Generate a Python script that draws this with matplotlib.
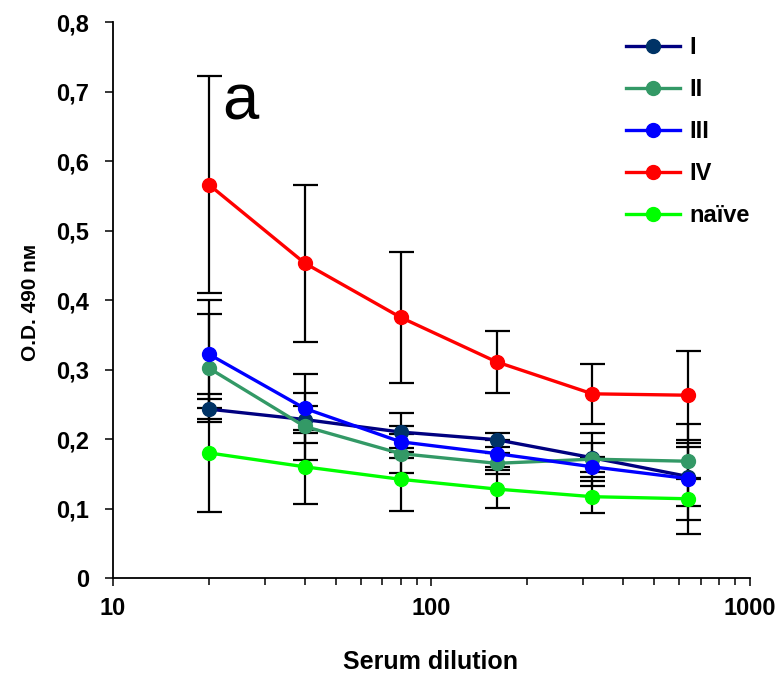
import matplotlib.pyplot as plt
from matplotlib.ticker import FixedLocator, FuncFormatter, LogLocator, NullFormatter

# serum dilution (x) and O.D. 490 values
dilution = [20, 40, 80, 160, 320, 640]

od_I = [0.243, 0.228, 0.210, 0.199, 0.173, 0.146]
err_I = [0.014, 0.020, 0.028, 0.010, 0.021, 0.042]
od_II = [0.302, 0.218, 0.179, 0.165, 0.171, 0.168]
err_II = [0.078, 0.048, 0.028, 0.015, 0.038, 0.026]
od_III = [0.322, 0.244, 0.196, 0.179, 0.160, 0.143]
err_III = [0.078, 0.050, 0.023, 0.020, 0.014, 0.079]
od_IV = [0.566, 0.453, 0.375, 0.311, 0.265, 0.263]
err_IV = [0.156, 0.113, 0.094, 0.045, 0.043, 0.064]
od_naive = [0.180, 0.160, 0.142, 0.128, 0.117, 0.114]
err_naive = [0.085, 0.053, 0.045, 0.027, 0.023, 0.030]

series = [
    ("I", od_I, err_I, "#000080", "#003366"),
    ("II", od_II, err_II, "#339966", "#339966"),
    ("III", od_III, err_III, "#0000FF", "#0000FF"),
    ("IV", od_IV, err_IV, "#FF0000", "#FF0000"),
    ("naïve", od_naive, err_naive, "#00FF00", "#00FF00"),
]

plt.rcParams.update({
    "font.family": ["Liberation Sans", "DejaVu Sans"],
    "font.weight": "bold",
})

fig = plt.figure(figsize=(7.8, 6.75), dpi=100)
ax = fig.add_axes([0.1449, 0.1437, 0.8166, 0.8237])

# error bars first so the markers sit on top
for name, vals, errs, lc, mc in series:
    ax.errorbar(dilution, vals, yerr=errs, fmt="none", ecolor="black",
                elinewidth=1.6, capsize=9, capthick=1.6, zorder=2)

for name, vals, errs, lc, mc in series:
    ax.plot(dilution, vals, "-o", color=lc, markerfacecolor=mc, markeredgecolor=mc,
            linewidth=2.4, markersize=10, label=name, zorder=3)

ax.set_xscale("log")
ax.set_xlim(10, 1000)
ax.set_ylim(0, 0.8)

ax.xaxis.set_major_locator(FixedLocator([10, 100, 1000]))
ax.xaxis.set_major_formatter(FuncFormatter(lambda v, p: f"{v:.0f}"))
ax.xaxis.set_minor_locator(LogLocator(base=10, subs=range(2, 10)))
ax.xaxis.set_minor_formatter(NullFormatter())

ax.yaxis.set_major_locator(FixedLocator([i / 10 for i in range(9)]))
ax.yaxis.set_major_formatter(
    FuncFormatter(lambda v, p: "0" if abs(v) < 1e-9 else f"{v:.1f}".replace(".", ",")))

for s in ["top", "right"]:
    ax.spines[s].set_visible(False)
for s in ["left", "bottom"]:
    ax.spines[s].set_linewidth(1.3)

ax.tick_params(axis="both", which="major", direction="out", length=6, width=1.1,
               labelsize=17)
ax.tick_params(axis="y", which="major", pad=11)
ax.tick_params(axis="x", which="major", pad=8)
ax.tick_params(axis="x", which="minor", direction="out", length=5, width=1.1)

ax.set_xlabel("Serum dilution", fontsize=18, fontweight="bold", va="center", ha="center")
ax.set_ylabel("O.D. 490 nм", fontsize=15, fontweight="bold", va="center", ha="center")
ax.xaxis.set_label_coords(0.498, -0.151)
ax.yaxis.set_label_coords(-0.130, 0.496)

ax.text(22, 0.66, "a", fontsize=47, fontweight="normal", va="baseline", ha="left")

ax.legend(loc="upper left", bbox_to_anchor=(0.802, 0.946), bbox_transform=fig.transFigure,
          frameon=False, borderpad=0, borderaxespad=0,
          fontsize=17, handlelength=2.3, labelspacing=0.8, handletextpad=0.4)

fig.savefig("out.png", dpi=100, facecolor="white")
